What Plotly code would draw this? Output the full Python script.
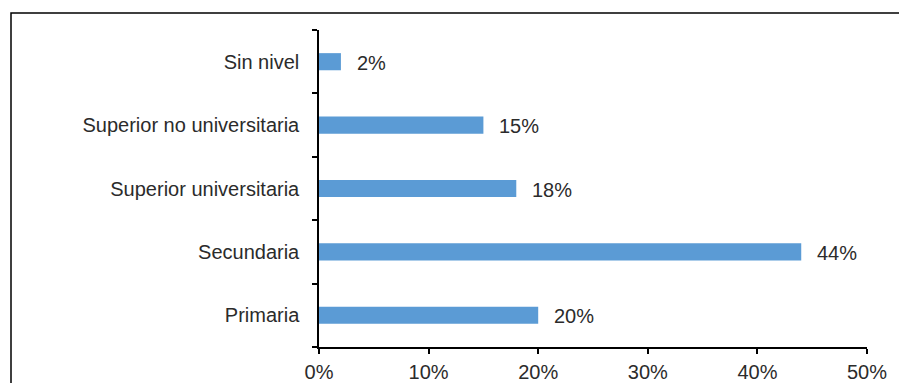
import plotly.graph_objects as go

categories = ["Primaria", "Secundaria", "Superior universitaria", "Superior no universitaria", "Sin nivel"]
values = [20, 44, 18, 15, 2]
labels = ["20%", "44%", "18%", "15%", "2%"]
x_ticks = [0, 10, 20, 30, 40, 50]
x_ticktext = ["0%", "10%", "20%", "30%", "40%", "50%"]

FONT = "Liberation Sans"
TXT = "#2b2b2b"
FS = 20

fig = go.Figure()
fig.add_trace(go.Bar(
    y=categories, x=values, orientation="h",
    marker=dict(color="#5B9BD5", line=dict(width=0)),
    width=0.27, hoverinfo="skip",
))

for c, v, t in zip(categories, values, labels):
    fig.add_annotation(x=v, y=c, text=t, showarrow=False, xanchor="left",
                       xshift=14, yshift=-1, font=dict(family=FONT, size=FS, color=TXT))

fig.update_layout(
    width=899, height=383,
    margin=dict(l=319, r=32, t=30, b=36, autoexpand=False),
    paper_bgcolor="white", plot_bgcolor="white",
    showlegend=False,
    font=dict(family=FONT, size=FS, color=TXT),
    xaxis=dict(range=[0, 50], tickvals=x_ticks, ticktext=x_ticktext,
               showgrid=False, zeroline=False, showline=True,
               linecolor="black", linewidth=1.5,
               ticks="outside", ticklen=5, tickwidth=1.5, tickcolor="black",
               ticklabelstandoff=1, automargin=False),
    yaxis=dict(showgrid=False, zeroline=False, showline=True,
               linecolor="black", linewidth=1.5,
               ticks="outside", ticklen=5, tickwidth=1.5, tickcolor="black",
               tickson="boundaries", ticklabelstandoff=14,
               range=[-0.5, 4.5], automargin=False),
)

fig.add_shape(type="rect", xref="paper", yref="paper",
              x0=(11 - 319) / 548, x1=(940 - 319) / 548,
              y0=(347 - 420) / 317, y1=(347 - 13) / 317,
              line=dict(color="black", width=1.5), fillcolor="rgba(0,0,0,0)",
              layer="below")

fig.write_html("out.html", config={"displayModeBar": False},
               post_script="document.body.style.margin='0';document.body.style.overflow='hidden';")
